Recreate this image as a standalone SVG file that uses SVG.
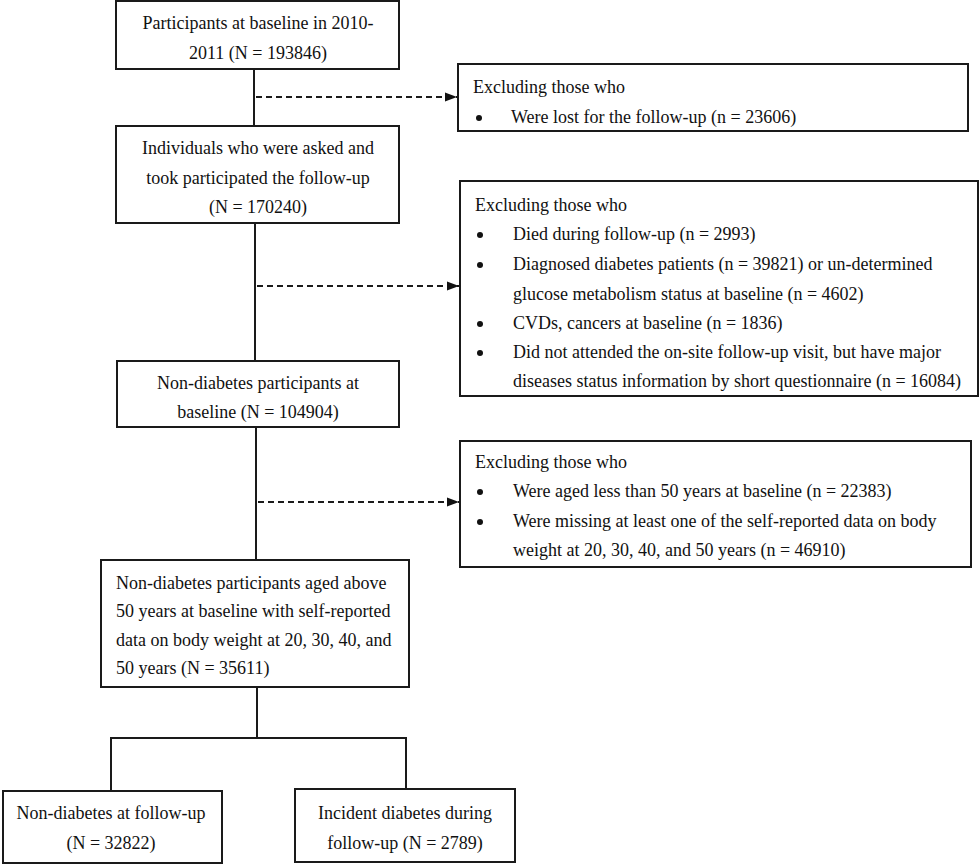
<svg xmlns="http://www.w3.org/2000/svg" width="980" height="865" viewBox="0 0 980 865">
<defs>
<style>
.box{fill:#fff;stroke:#1a1a1a;stroke-width:2}
.t{font-family:"Liberation Serif","Times New Roman",serif;font-size:18px;fill:#111}
.c{text-anchor:middle}
.ln{fill:none;stroke:#1a1a1a;stroke-width:2}
.dash{fill:none;stroke:#1a1a1a;stroke-width:1.8;stroke-dasharray:6,4}
.bul{fill:#111}
</style>
<marker id="ah" viewBox="0 0 12 10" refX="12" refY="5" markerWidth="12" markerHeight="10" markerUnits="userSpaceOnUse" orient="auto">
<path d="M0,0.5 L12,5 L0,9.5 z" fill="#111"/>
</marker>
</defs>
<rect width="980" height="865" fill="#fff"/>
<g id="connectors">
<line class="ln" x1="254" y1="69" x2="254" y2="126"/>
<line class="ln" x1="255" y1="223" x2="255" y2="361"/>
<line class="ln" x1="256" y1="427" x2="256" y2="560"/>
<line class="ln" x1="257" y1="687" x2="257" y2="738"/>
<polyline class="ln" points="111,791 111,738 406,738 406,789"/>
<line class="dash" x1="256" y1="97" x2="457" y2="97" marker-end="url(#ah)"/>
<line class="dash" x1="257" y1="286" x2="459" y2="286" marker-end="url(#ah)"/>
<line class="dash" x1="258" y1="502" x2="459" y2="502" marker-end="url(#ah)"/>
</g>
<g id="n1">
<rect class="box" x="116" y="1" width="283" height="68"/>
<text class="t c" x="258" y="29">Participants at baseline in 2010-</text>
<text class="t c" x="258" y="59">2011 (N = 193846)</text>
</g>
<g id="n2">
<rect class="box" x="116" y="126" width="283" height="97"/>
<text class="t c" x="258" y="154">Individuals who were asked and</text>
<text class="t c" x="258" y="184">took participated the follow-up</text>
<text class="t c" x="258" y="213">(N = 170240)</text>
</g>
<g id="n3">
<rect class="box" x="117" y="361" width="282" height="66"/>
<text class="t c" x="258" y="389">Non-diabetes participants at</text>
<text class="t c" x="258" y="418">baseline (N = 104904)</text>
</g>
<g id="n4">
<rect class="box" x="101" y="560" width="308" height="127"/>
<text class="t" x="116" y="589">Non-diabetes participants aged above</text>
<text class="t" x="116" y="617">50 years at baseline with self-reported</text>
<text class="t" x="116" y="646">data on body weight at 20, 30, 40, and</text>
<text class="t" x="116" y="674">50 years (N = 35611)</text>
</g>
<g id="n5">
<rect class="box" x="3" y="791" width="219" height="72"/>
<text class="t c" x="111" y="819">Non-diabetes at follow-up</text>
<text class="t c" x="111" y="849">(N = 32822)</text>
</g>
<g id="n6">
<rect class="box" x="295" y="789" width="220" height="73"/>
<text class="t c" x="405" y="819">Incident diabetes during</text>
<text class="t c" x="405" y="849">follow-up (N = 2789)</text>
</g>
<g id="e1">
<rect class="box" x="458" y="64" width="510" height="67"/>
<text class="t" x="473" y="93">Excluding those who</text>
<circle class="bul" cx="479" cy="118" r="3"/>
<text class="t" x="511" y="123">Were lost for the follow-up (n = 23606)</text>
</g>
<g id="e2">
<rect class="box" x="460" y="181" width="518" height="215"/>
<text class="t" x="475" y="211">Excluding those who</text>
<circle class="bul" cx="480" cy="235" r="3"/>
<text class="t" x="513" y="240">Died during follow-up (n = 2993)</text>
<circle class="bul" cx="480" cy="265" r="3"/>
<text class="t" x="513" y="270">Diagnosed diabetes patients (n = 39821) or un-determined</text>
<text class="t" x="513" y="300">glucose metabolism status at baseline (n = 4602)</text>
<circle class="bul" cx="480" cy="324" r="3"/>
<text class="t" x="513" y="329">CVDs, cancers at baseline (n = 1836)</text>
<circle class="bul" cx="480" cy="353" r="3"/>
<text class="t" x="513" y="358">Did not attended the on-site follow-up visit, but have major</text>
<text class="t" x="513" y="387">diseases status information by short questionnaire (n = 16084)</text>
</g>
<g id="e3">
<rect class="box" x="460" y="441" width="511" height="126"/>
<text class="t" x="475" y="468">Excluding those who</text>
<circle class="bul" cx="480" cy="492" r="3"/>
<text class="t" x="513" y="497">Were aged less than 50 years at baseline (n = 22383)</text>
<circle class="bul" cx="480" cy="522" r="3"/>
<text class="t" x="513" y="527">Were missing at least one of the self-reported data on body</text>
<text class="t" x="513" y="556">weight at 20, 30, 40, and 50 years (n = 46910)</text>
</g>
</svg>
